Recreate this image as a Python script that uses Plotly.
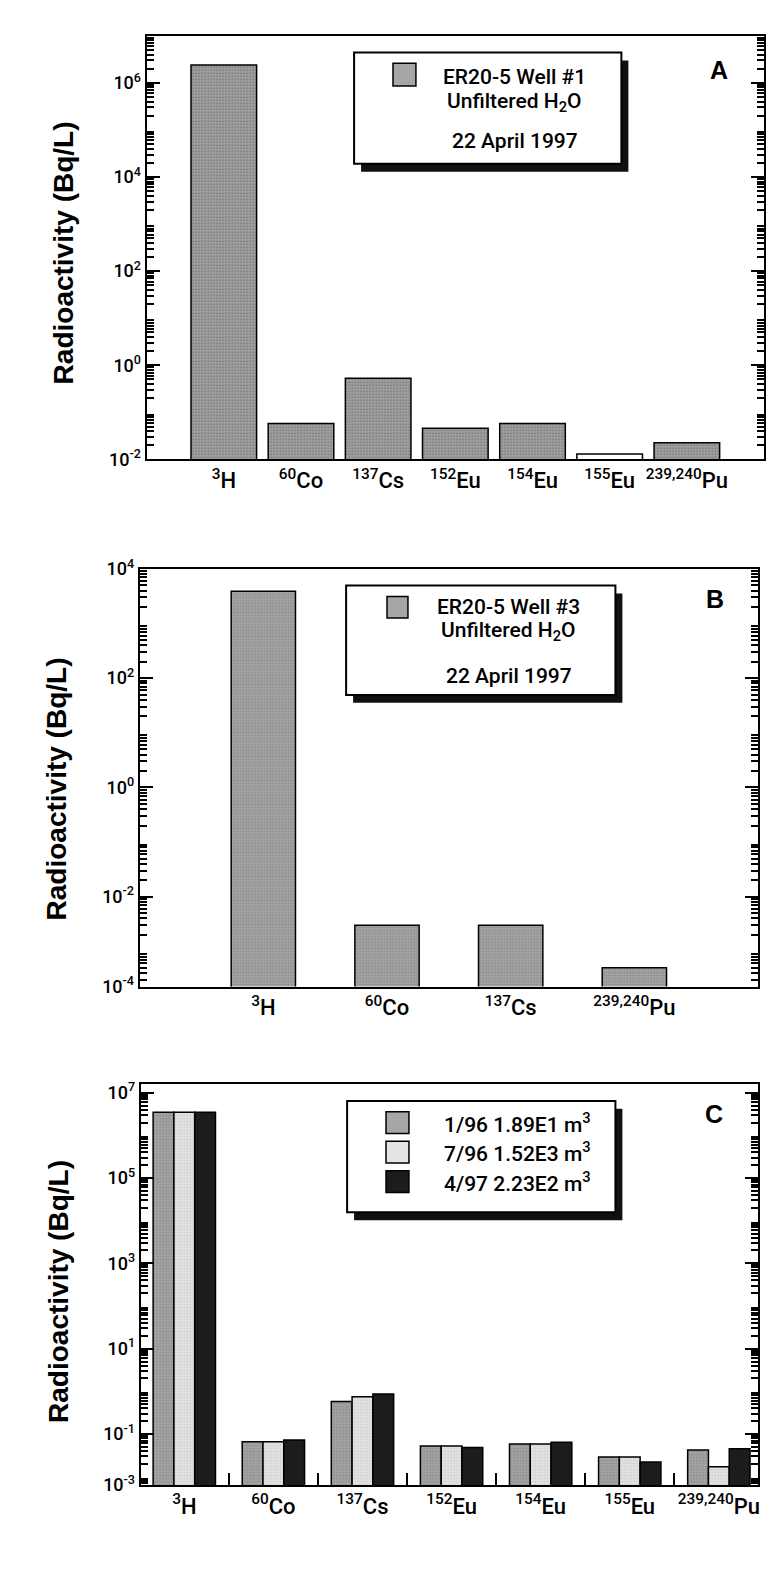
import plotly.graph_objects as go

# page is 783x1582; the html body keeps its default 8px margin on every side,
# so the figure is sized to fit inside it and positions are given in page pixels
PAGE_W, PAGE_H = 783, 1582
OFF = 8
W, H = PAGE_W - 2 * OFF, PAGE_H - 2 * OFF

# ---------------- data ----------------
nuclides_A = ["<sup>3</sup>H", "<sup>60</sup>Co", "<sup>137</sup>Cs", "<sup>152</sup>Eu",
              "<sup>154</sup>Eu", "<sup>155</sup>Eu", "<sup>239,240</sup>Pu"]
well1_apr97 = [2.4e6, 0.058, 0.53, 0.046, 0.058, 0.013, 0.0226]

nuclides_B = ["<sup>3</sup>H", "<sup>60</sup>Co", "<sup>137</sup>Cs", "<sup>239,240</sup>Pu"]
well3_apr97 = [3900, 0.003, 0.003, 0.0005]

nuclides_C = nuclides_A
c_jan96 = [3.5e6, 0.066, 0.58, 0.052, 0.058, 0.029, 0.042]
c_jul96 = [3.5e6, 0.066, 0.75, 0.052, 0.058, 0.029, 0.017]
c_apr97 = [3.5e6, 0.072, 0.86, 0.048, 0.064, 0.022, 0.045]
series_C = ["1/96 1.89E1 m<sup>3</sup>", "7/96 1.52E3 m<sup>3</sup>", "4/97 2.23E2 m<sup>3</sup>"]

# labelled decades (exponents); bottom labels of B and C sit at the axis floor as in the original
yt_A = [-2, 0, 2, 4, 6]
yt_B = [0, 2, 4, -2]
yt_B_floor_label = "10<sup>-4</sup>"
yt_C = [-1, 1, 3, 5, 7]
yt_C_floor_label = "10<sup>-3</sup>"

# ---------------- styles ----------------
FONT = "Roboto, Liberation Sans, Arial"
BOLD = "Liberation Sans, Arial, Helvetica"
GRAY, GRAY_DOT = "#a6a6a6", "#6a6a6a"
LIGHT, LIGHT_DOT = "#e4e4e4", "#b4b4b4"
DARK = "#1c1c1c"
fill_A = [GRAY, GRAY, GRAY, GRAY, GRAY, "#ffffff", GRAY]
shape_A = [".", ".", ".", ".", ".", "", "."]

RANGE_A = [-2, 7]
RANGE_B = [-3.645, 4]
RANGE_C = [-2.2, 7.2]


def px(x):  # page pixel -> paper fraction
    return (x - OFF) / W


def py(y):
    return 1 - (y - OFF) / H


fig = go.Figure()

fig.add_trace(go.Bar(x=nuclides_A, y=well1_apr97, width=0.85, xaxis="x", yaxis="y",
                     marker=dict(color=fill_A, line=dict(color="black", width=1.5),
                                 pattern=dict(shape=shape_A, fgcolor=GRAY_DOT, size=3, solidity=0.35)),
                     showlegend=False))
fig.add_trace(go.Bar(x=nuclides_B, y=well3_apr97, width=0.52, xaxis="x2", yaxis="y2",
                     marker=dict(color=GRAY, line=dict(color="black", width=1.5),
                                 pattern=dict(shape=".", fgcolor=GRAY_DOT, size=3, solidity=0.35)),
                     showlegend=False))
for vals, name, col, dot, shp in [(c_jan96, series_C[0], GRAY, GRAY_DOT, "."),
                                  (c_jul96, series_C[1], LIGHT, LIGHT_DOT, "."),
                                  (c_apr97, series_C[2], DARK, DARK, "")]:
    fig.add_trace(go.Bar(x=nuclides_C, y=vals, name=name, xaxis="x3", yaxis="y3",
                         marker=dict(color=col, line=dict(color="black", width=1.5),
                                     pattern=dict(shape=shp, fgcolor=dot, size=3, solidity=0.35)),
                         showlegend=False))


def yaxis(dom, rng, labelled, anchor, floor_label=None):
    lo, hi = int(rng[0]) - 1, int(rng[1]) + 1
    vals = [10.0 ** e for e in labelled]
    texts = ["10<sup>%d</sup>" % e for e in labelled]
    if floor_label:
        vals.append(10.0 ** rng[0])
        texts.append(floor_label)
    minors = [k * 10.0 ** e for e in range(lo, hi) for k in range(2, 10)]
    return dict(type="log", domain=dom, range=rng, anchor=anchor, showline=True, linewidth=2,
                linecolor="black", mirror="allticks", ticks="inside", ticklen=13, tickwidth=2,
                tickcolor="black", tickvals=vals, ticktext=texts, showgrid=False, zeroline=False,
                tickfont=dict(family=FONT, size=18, color="black", weight=500),
                minor=dict(tickvals=minors, ticks="inside", ticklen=7, tickwidth=1.5,
                           tickcolor="black", showgrid=False))


def decade_axis(dom, rng, anchor, over):
    lo, hi = int(rng[0]) - 1, int(rng[1]) + 1
    return dict(type="log", domain=dom, range=rng, anchor=anchor, overlaying=over,
                showline=False, mirror="allticks", ticks="inside", ticklen=13, tickwidth=2,
                tickcolor="black", tickvals=[10.0 ** e for e in range(lo, hi + 1)],
                showticklabels=False, showgrid=False, zeroline=False)


def xaxis(dom, anchor, rng, ticks=""):
    return dict(type="category", domain=dom, anchor=anchor, range=rng, showline=True,
                linewidth=2, linecolor="black", mirror=True, ticks=ticks, ticklen=12,
                tickwidth=2, tickcolor="black", tickson="boundaries", showgrid=False,
                tickangle=0,
                tickfont=dict(family=FONT, size=22, color="black", weight=500))


dA = dict(x=[px(147), px(766)], y=[py(453), py(23)])
dB = dict(x=[px(140), px(760)], y=[py(988), py(564)])
dC = dict(x=[px(141), px(760)], y=[py(1494), py(1087)])

fig.update_layout(
    width=W, height=H, margin=dict(l=0, r=0, t=0, b=0),
    paper_bgcolor="white", plot_bgcolor="white",
    barmode="group", bargap=0.3, bargroupgap=0,
    xaxis=xaxis(dA["x"], "y", [-1, 7]),
    yaxis=yaxis(dA["y"], RANGE_A, yt_A, "x"),
    yaxis4=decade_axis(dA["y"], RANGE_A, "x", "y"),
    xaxis2=xaxis(dB["x"], "y2", [-1, 4]),
    yaxis2=yaxis(dB["y"], RANGE_B, yt_B, "x2", yt_B_floor_label),
    yaxis5=decade_axis(dB["y"], RANGE_B, "x2", "y2"),
    xaxis3=xaxis(dC["x"], "y3", [-0.49, 6.44], ticks="inside"),
    yaxis3=yaxis(dC["y"], RANGE_C, yt_C, "x3", yt_C_floor_label),
    yaxis6=decade_axis(dC["y"], RANGE_C, "x3", "y3"),
)

shapes, ann = [], []


def box(x0, y0, x1, y1, dx=7, dy=8):
    shapes.append(dict(type="rect", xref="paper", yref="paper", x0=px(x0 + dx), x1=px(x1 + dx),
                       y0=py(y1 + dy), y1=py(y0 + dy), fillcolor="#111111", line=dict(width=0)))
    shapes.append(dict(type="rect", xref="paper", yref="paper", x0=px(x0), x1=px(x1),
                       y0=py(y1), y1=py(y0), fillcolor="white", line=dict(color="black", width=2)))


def swatch(x0, y0, x1, y1, col):
    shapes.append(dict(type="rect", xref="paper", yref="paper", x0=px(x0), x1=px(x1),
                       y0=py(y1), y1=py(y0), fillcolor=col, line=dict(color="black", width=1.5)))


def text(x, y, s, size=21, fam=FONT, xa="center", bold=False, angle=0, weight=500):
    ann.append(dict(xref="paper", yref="paper", x=px(x), y=py(y), text=("<b>%s</b>" % s) if bold else s,
                    showarrow=False, xanchor=xa, yanchor="middle", textangle=angle,
                    font=dict(family=fam, size=size, color="black", weight=700 if bold else weight)))


box(355, 40, 623, 153)
swatch(394, 51, 417, 74, GRAY)
text(516, 65, "ER20-5 Well #1")
text(516, 91, "Unfiltered H<sub>2</sub>O")
text(516, 130, "22 April 1997")
text(721, 58, "A", size=25, fam=BOLD, bold=True)

box(347, 581, 617, 692)
swatch(388, 592, 409, 614, GRAY)
text(510, 603, "ER20-5 Well #3")
text(510, 628, "Unfiltered H<sub>2</sub>O")
text(510, 673, "22 April 1997")
text(717, 595, "B", size=25, fam=BOLD, bold=True)

box(348, 1104, 617, 1217)
for (yy, col, lab) in [(1126, GRAY, series_C[0]), (1156, LIGHT, series_C[1]), (1186, DARK, series_C[2])]:
    swatch(387, yy - 11, 410, yy + 11, col)
    text(443, yy, lab, xa="left")
text(716, 1117, "C", size=25, fam=BOLD, bold=True)

for (tx, ty) in [(64, 243), (57, 787), (58, 1297)]:
    text(tx, ty, "Radioactivity (Bq/L)", size=28, fam=BOLD, bold=True, angle=-90)

fig.update_layout(shapes=shapes, annotations=ann)
fig.write_html("out.html")
